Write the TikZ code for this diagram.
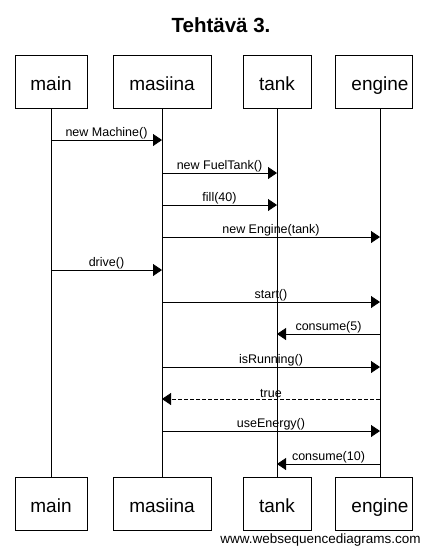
\documentclass[tikz,border=0pt]{standalone}
\usepackage{fontspec}
\setsansfont{Liberation Sans}
\usepackage{tikz}
\usetikzlibrary{arrows.meta,positioning}
\definecolor{sdInk}{HTML}{000000}
\definecolor{sdPaper}{HTML}{FFFFFF}
\tikzset{
  sd diagram/.style={font=\sffamily, text=sdInk,
    line cap=butt, line join=miter},
  sd box/.style={draw=sdInk, fill=sdPaper, line width=0.8pt,
    minimum height=53pt, inner xsep=0pt, text height=20pt, text depth=2pt,
    font=\sffamily\fontsize{19}{22}\selectfont},
  sd life/.style={draw=sdInk, line width=0.8pt},
  sd msg/.style={-{Triangle[length=9pt,width=12pt]}, draw=sdInk, line width=0.8pt},
  sd return/.style={sd msg, dash pattern=on 4pt off 2pt},
  sd label/.style={font=\sffamily\fontsize{12.5}{14}\selectfont,
    above, inner sep=1pt},
  sd title/.style={font=\sffamily\bfseries\fontsize{20.5}{24}\selectfont},
  sd footer/.style={font=\sffamily\fontsize{13.5}{16}\selectfont, anchor=base}
}

\begin{document}
\begin{tikzpicture}[sd diagram,x=1pt,y=-1pt]
\useasboundingbox[fill=sdPaper] (0,0) rectangle (439,555);
\node[sd title] (title) at (221,25.5) {Tehtävä 3.};
% participants, top and bottom
\foreach \name/\x/\w in {main/51/72pt,masiina/162/98pt,tank/277/68pt}{
  \node[sd box,minimum width=\w] (\name Top) at (\x,81.5) {\name};
  \node[sd box,minimum width=\w] (\name Bot) at (\x,503.5) {\name};
  \draw[sd life] (\name Top) -- (\name Bot);
  \coordinate (\name L) at (\name Top.south);
}
\node[sd box,minimum width=77pt] (engineTop) at (373.5,81.5) {\hspace*{13pt}engine};
\node[sd box,minimum width=77pt] (engineBot) at (373.5,503.5) {\hspace*{13pt}engine};
\coordinate (engineL) at ([xshift=6.5pt]engineTop.south);
\draw[sd life] (engineL) -- ([xshift=6.5pt]engineBot.north);
% messages
\foreach \y/\a/\b/\txt in {140/mainL/masiinaL/new Machine(),
    173/masiinaL/tankL/new FuelTank(),
    205/masiinaL/tankL/fill(40),
    237/masiinaL/engineL/new Engine(tank),
    270/mainL/masiinaL/drive(),
    302/masiinaL/engineL/start(),
    334/engineL/tankL/consume(5),
    367/masiinaL/engineL/isRunning(),
    431/masiinaL/engineL/useEnergy(),
    464/engineL/tankL/consume(10)}
  \draw[sd msg] (\a |- 0,\y) -- (\b |- 0,\y) node[sd label,midway] {\txt};
\draw[sd return] (engineL |- 0,399) -- (masiinaL |- 0,399) node[sd label,midway] {true};
\node[sd footer] (footer) at (320.5,543) {www.websequencediagrams.com};
\end{tikzpicture}
\end{document}
